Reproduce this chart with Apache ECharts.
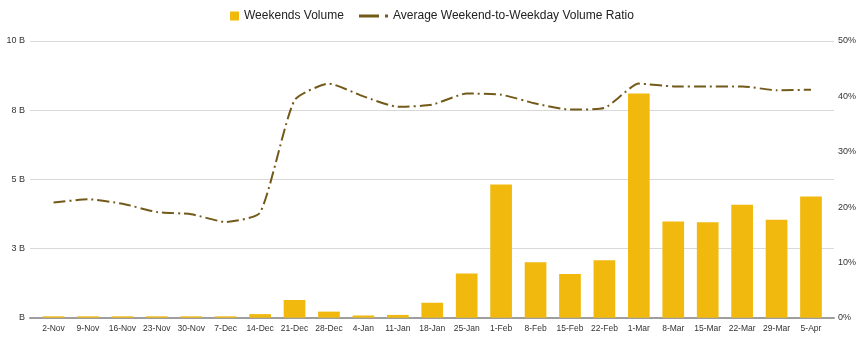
<!DOCTYPE html>
<html>
<head>
<meta charset="utf-8">
<script src="https://cdn.jsdelivr.net/npm/echarts@6/dist/echarts.min.js"></script>
<style>
html,body{margin:0;padding:0;background:#fff;}
#chart{width:868px;height:340px;}
</style>
</head>
<body>
<div id="chart"></div>
<script>
// ---- data ----
const categories = ['2-Nov','9-Nov','16-Nov','23-Nov','30-Nov','7-Dec','14-Dec','21-Dec','28-Dec','4-Jan','11-Jan','18-Jan','25-Jan','1-Feb','8-Feb','15-Feb','22-Feb','1-Mar','8-Mar','15-Mar','22-Mar','29-Mar','5-Apr'];
// weekend volume, billions
const weekendVolume = [0.05,0.05,0.05,0.05,0.05,0.05,0.13,0.64,0.22,0.08,0.10,0.54,1.60,4.81,2.00,1.58,2.08,8.10,3.48,3.45,4.08,3.54,4.38];
// average weekend-to-weekday volume ratio, percent
const volumeRatio = [20.8,21.4,20.6,19.1,18.7,17.3,19.0,39.3,42.3,40.0,38.1,38.5,40.5,40.3,38.7,37.6,37.9,42.3,41.8,41.8,41.8,41.1,41.2];
const leftTickLabels = ['B','3 B','5 B','8 B','10 B'];
const rightTickLabels = ['0%','10%','20%','30%','40%','50%'];
const seriesNames = ['Weekends Volume','Average Weekend-to-Weekday Volume Ratio'];

const FONT = "'Liberation Sans', Arial, sans-serif";
const chart = echarts.init(document.getElementById('chart'), null, {renderer:'canvas'});
chart.setOption({
  animation: false,
  textStyle: {fontFamily: FONT},
  legend: [
    {data:[seriesNames[0]], left:225, top:5, itemWidth:9, itemHeight:9, icon:'rect',
     itemStyle:{borderWidth:0}, textStyle:{fontSize:12, color:'#222', fontFamily:FONT}},
    {data:[seriesNames[1]], left:354, top:5, itemWidth:29, itemHeight:3,
     icon:'path://M0,0h20v3h-20z M26,0h3v3h-3z',
     itemStyle:{borderWidth:0}, textStyle:{fontSize:12, color:'#222', fontFamily:FONT}}
  ],
  grid: [
    {left:36.3, right:39.8, top:41, bottom:22.3},
    {left:30, right:34, top:41, bottom:22.3}
  ],
  xAxis: [
    {type:'category', gridIndex:0, data:categories,
     axisLine:{show:false}, axisTick:{show:false}, splitLine:{show:false},
     axisLabel:{interval:0, fontSize:8.5, color:'#333', margin:6, fontFamily:FONT}},
    {type:'value', gridIndex:1, min:0, max:1,
     axisLine:{show:true, lineStyle:{color:'#9e9e9e', width:2}},
     axisTick:{show:false}, axisLabel:{show:false}, splitLine:{show:false}}
  ],
  yAxis: [
    {type:'value', gridIndex:0, min:0, max:10, show:false},
    {type:'value', gridIndex:0, min:0, max:50, show:false, position:'right'},
    {type:'value', gridIndex:1, min:0, max:10, interval:2.5, position:'left',
     axisLine:{show:false}, axisTick:{show:false},
     splitLine:{show:true, lineStyle:{color:'#d9d9d9', width:1}},
     axisLabel:{fontSize:9, color:'#333', margin:5, fontFamily:FONT,
       formatter:(v, i) => leftTickLabels[i]}},
    {type:'value', gridIndex:1, min:0, max:50, interval:10, position:'right',
     axisLine:{show:false}, axisTick:{show:false}, splitLine:{show:false},
     axisLabel:{fontSize:9, color:'#333', margin:4, fontFamily:FONT,
       formatter:(v, i) => rightTickLabels[i]}}
  ],
  series: [
    {name:seriesNames[0], type:'bar', xAxisIndex:0, yAxisIndex:0, data:weekendVolume,
     barWidth:'63%', itemStyle:{color:'#F1B90E'}, z:3},
    {name:seriesNames[1], type:'line', xAxisIndex:0, yAxisIndex:1, data:volumeRatio,
     color:'#735a1a', smooth:0.18, showSymbol:false, symbol:'none',
     itemStyle:{color:'#735a1a'},
     lineStyle:{color:'#735a1a', width:2, type:[12,4,2,4]}, z:4}
  ]
});
</script>
</body>
</html>
